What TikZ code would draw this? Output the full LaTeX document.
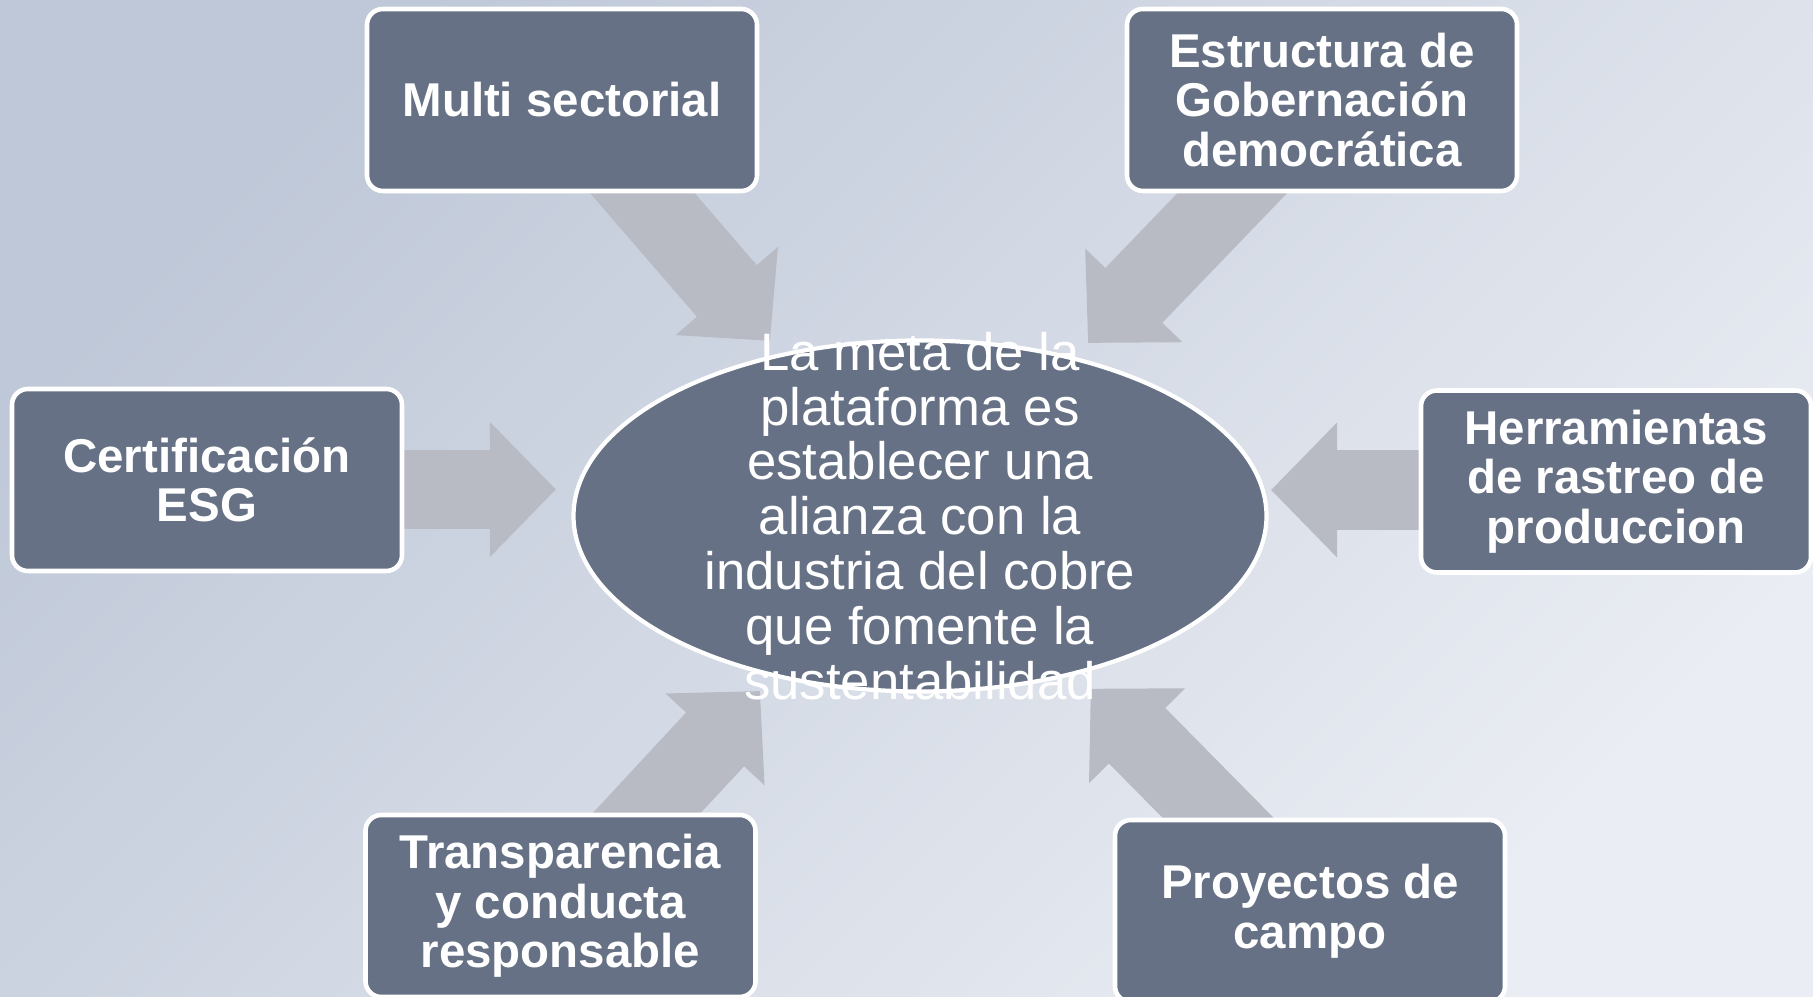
\documentclass[tikz,border=0pt]{standalone}
\usepackage{fontspec}
\setmainfont{Liberation Sans}
\usepackage{xcolor}
\usetikzlibrary{arrows.meta,shapes.geometric,backgrounds}

\definecolor{boxfill}{HTML}{667185}
\definecolor{arrowgray}{HTML}{B8BBC4}
\definecolor{bgdark}{HTML}{BFC8D8}
\definecolor{bglight}{HTML}{EAEDF3}

\begin{document}
\begin{tikzpicture}[
    pillar/.style={draw=white, line width=1.3pt, fill=boxfill, rounded corners=4.5pt,
        minimum width=3.9cm, minimum height=1.82cm, inner sep=2pt, align=center,
        text=white, font=\fontsize{13.5}{14.1}\selectfont\bfseries},
    goal/.style={ellipse, draw=white, line width=1.2pt, fill=boxfill,
        minimum width=6.93cm, minimum height=3.51cm, inner sep=0pt},
    goaltext/.style={align=center, inner sep=0pt, text=white,
        font=\fontsize{15}{15.6}\selectfont},
    bigarrow/.style={draw=arrowgray, line width=22.5pt,
        -{Triangle[length=18.8pt, width=37.3pt]}}
]
    \useasboundingbox (0,0) rectangle (18.13,9.97);

    % Define points
    \coordinate (C) at (9.20, 4.81);
    \coordinate (mstip) at (7.70, 6.56);
    \coordinate (esttip) at (10.88, 6.54);
    \coordinate (certtip) at (5.56, 5.075);
    \coordinate (herrtip) at (12.71, 5.07);
    \coordinate (transtip) at (7.60, 3.06);
    \coordinate (proytip) at (10.907, 3.083);

    % Central goal
    \node[goal] (goal) at (C) {};
    \node[goaltext] (goaltxt) at (C) {La meta de la\\plataforma es\\establecer una\\alianza con la\\industria del cobre\\que fomente la\\sustentabilidad};

    % Boxes around it
    \node[pillar] (ms) at (5.62, 8.97) {Multi sectorial};
    \node[pillar] (est) at (13.22, 8.97) {Estructura de\\Gobernación\\democrática};
    \node[pillar] (cert) at (2.07, 5.17) {Certificación\\ESG};
    \node[pillar] (herr) at (16.16, 5.155) {Herramientas\\de rastreo de\\produccion};
    \node[pillar] (trans) at (5.605, 0.91) {Transparencia\\y conducta\\responsable};
    \node[pillar] (proy) at (13.10, 0.86) {Proyectos de\\campo};

    % Background and arrows behind everything
    \begin{scope}[on background layer]
        \shade[top color=bgdark, bottom color=bglight, shading angle=45] (0,0) rectangle (18.13,9.97);
        \draw[bigarrow] (ms.center) -- (mstip);
        \draw[bigarrow] (est.center) -- (esttip);
        \draw[bigarrow] (cert.center |- certtip) -- (certtip);
        \draw[bigarrow] (herr.center |- herrtip) -- (herrtip);
        \draw[bigarrow] (trans.center) -- (transtip);
        \draw[bigarrow] (proy.center) -- (proytip);
    \end{scope}

\end{tikzpicture}
\end{document}
